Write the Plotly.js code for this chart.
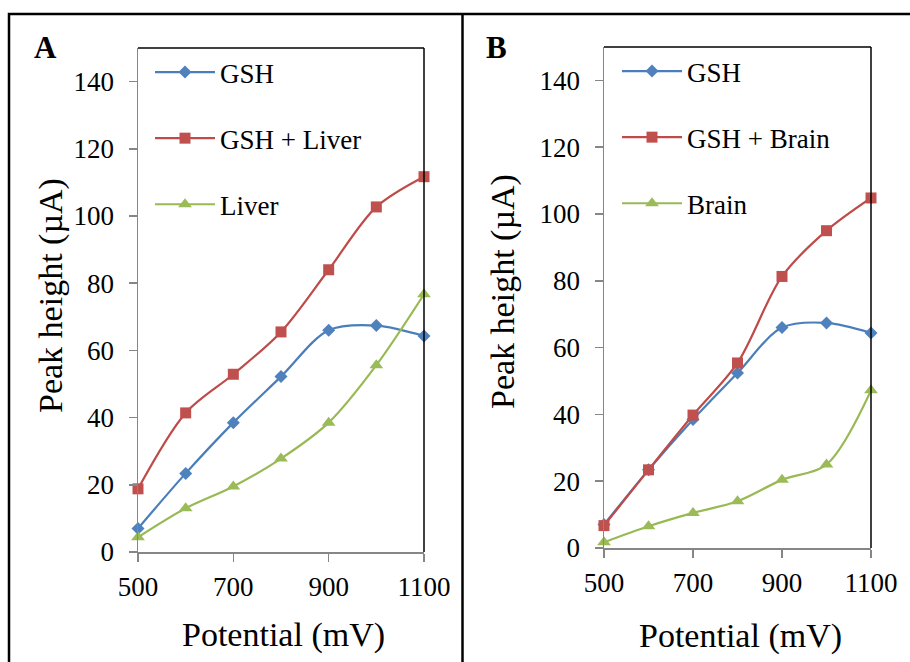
<!DOCTYPE html>
<html>
<head>
<meta charset="utf-8">
<script src="https://cdn.plot.ly/plotly-3.0.1.min.js"></script>
<style>html,body{margin:0;padding:0;background:#fff;} #chart{width:910px;height:662px;}</style>
</head>
<body>
<div id="chart"></div>
<script>
// Data
const potential = [500, 600, 700, 800, 900, 1000, 1100];
const gshA = [7.0, 23.4, 38.5, 52.2, 66.0, 67.4, 64.3];
const gshLiver = [18.8, 41.4, 52.9, 65.5, 84.0, 102.7, 111.7];
const liver = [4.4, 13.0, 19.5, 27.8, 38.5, 55.6, 76.7];
const gshB = [7.0, 23.4, 38.5, 52.4, 66.0, 67.4, 64.4];
const gshBrain = [6.7, 23.4, 39.8, 55.4, 81.3, 95.0, 104.8];
const brain = [1.7, 6.5, 10.5, 14.0, 20.4, 25.0, 47.2];
const xTicks = [500, 700, 900, 1100];
const yTicks = [0, 20, 40, 60, 80, 100, 120, 140];

const W = 910, H = 662;
const px = v => v / W;
const py = v => 1 - v / H;

const BLUE = '#4A7EBB', RED = '#BE4B48', GREEN = '#98B954';
const BLUE_M = '#4F81BD', RED_M = '#C0504D', GREEN_M = '#9BBB59';
const FONT = 'Liberation Serif';

function tr(x, y, name, color, mcolor, symbol, size, xa, ya, leg) {
  return {
    x: x, y: y, name: name, type: 'scatter', mode: 'lines+markers',
    xaxis: xa, yaxis: ya, legend: leg, legendgroup: leg + name,
    line: {color: color, width: 2.2, shape: 'spline', smoothing: 0.9},
    marker: {color: mcolor, symbol: symbol, size: size},
    cliponaxis: false
  };
}

const data = [
  tr(potential, gshA, 'GSH', BLUE, BLUE_M, 'diamond', 10, 'x', 'y', 'legend'),
  tr(potential, gshLiver, 'GSH + Liver', RED, RED_M, 'square', 11, 'x', 'y', 'legend'),
  tr(potential, liver, 'Liver', GREEN, GREEN_M, 'triangle-up', 12, 'x', 'y', 'legend'),
  tr(potential, gshB, 'GSH', BLUE, BLUE_M, 'diamond', 10, 'x2', 'y2', 'legend2'),
  tr(potential, gshBrain, 'GSH + Brain', RED, RED_M, 'square', 11, 'x2', 'y2', 'legend2'),
  tr(potential, brain, 'Brain', GREEN, GREEN_M, 'triangle-up', 12, 'x2', 'y2', 'legend2')
];

const axisCommon = {
  showline: true, linecolor: '#868686', linewidth: 1.5,
  ticks: 'outside', ticklen: 8, tickcolor: '#868686', tickwidth: 1.5,
  showgrid: false, zeroline: false,
  tickfont: {family: FONT, size: 27, color: '#000'}
};

function xa(d, anchor) {
  return Object.assign({}, axisCommon, {
    domain: d, anchor: anchor, range: [500, 1100], ticklabelstandoff: 2,
    tickmode: 'array', tickvals: xTicks, ticktext: xTicks.map(String)
  });
}
function ya(d, anchor) {
  return Object.assign({}, axisCommon, {
    domain: d, anchor: anchor, range: [0, 150], ticklabelstandoff: 9,
    tickmode: 'array', tickvals: yTicks, ticktext: yTicks.map(String)
  });
}

const legendCommon = {
  bgcolor: 'rgba(0,0,0,0)', borderwidth: 0,
  font: {family: FONT, size: 27, color: '#000'},
  tracegroupgap: 28, xanchor: 'left', yanchor: 'top', itemwidth: 60
};

function ann(text, x, y, size, extra) {
  return Object.assign({
    text: text, x: px(x), y: py(y), xref: 'paper', yref: 'paper',
    showarrow: false, xanchor: 'center', yanchor: 'middle',
    font: {family: FONT, size: size, color: '#000'}
  }, extra || {});
}

const layout = {
  width: W, height: H,
  margin: {l: 0, r: 0, t: 0, b: 0},
  font: {family: FONT, color: '#000'},
  paper_bgcolor: '#fff', plot_bgcolor: 'rgba(0,0,0,0)',
  showlegend: true,
  xaxis: xa([px(138), px(424)], 'y'),
  yaxis: ya([py(552), py(48)], 'x'),
  xaxis2: xa([px(604), px(871)], 'y2'),
  yaxis2: ya([py(548), py(47)], 'x2'),
  legend: Object.assign({}, legendCommon, {x: px(150), y: py(48)}),
  legend2: Object.assign({}, legendCommon, {x: px(617), y: py(47)}),
  annotations: [
    ann('<b>A</b>', 45, 47, 31),
    ann('<b>B</b>', 497, 47, 31),
    ann('Potential (mV)', 283, 635, 34),
    ann('Potential (mV)', 740, 636, 34),
    ann('Peak height (µA)', 51, 296, 34, {textangle: -90}),
    ann('Peak height (µA)', 503, 292, 34, {textangle: -90})
  ],
  shapes: [
    // outer frame
    {type: 'rect', xref: 'paper', yref: 'paper', x0: px(9), x1: px(930), y0: py(14), y1: py(680), line: {color: '#000', width: 2.5}},
    {type: 'line', xref: 'paper', yref: 'paper', x0: px(462.5), x1: px(462.5), y0: py(14), y1: py(680), line: {color: '#000', width: 2.5}},
    // plot area top/right borders
    {type: 'line', xref: 'paper', yref: 'paper', x0: px(138), x1: px(424), y0: py(48), y1: py(48), line: {color: '#000', width: 1.5}},
    {type: 'line', xref: 'paper', yref: 'paper', x0: px(424), x1: px(424), y0: py(48), y1: py(552), line: {color: '#000', width: 1.5}},
    {type: 'line', xref: 'paper', yref: 'paper', x0: px(604), x1: px(871), y0: py(47), y1: py(47), line: {color: '#000', width: 1.5}},
    {type: 'line', xref: 'paper', yref: 'paper', x0: px(871), x1: px(871), y0: py(47), y1: py(548), line: {color: '#000', width: 1.5}}
  ]
};

Plotly.newPlot('chart', data, layout, {displayModeBar: false, staticPlot: true});
</script>
</body>
</html>
